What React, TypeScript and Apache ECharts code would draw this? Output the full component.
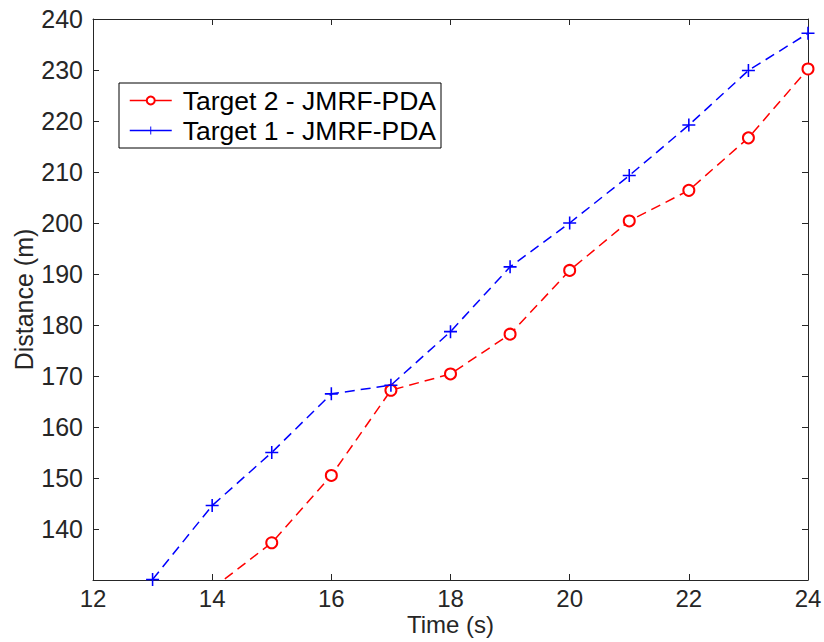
import React, { useEffect, useRef } from "react";
import * as echarts from "echarts";

const seriesNames = ["Target 2 - JMRF-PDA", "Target 1 - JMRF-PDA"];
const timeTarget2 = [14, 15, 16, 17, 18, 19, 20, 21, 22, 23, 24];
const distTarget2 = [128.3, 137.3, 150.5, 167.2, 170.4, 178.2, 190.7, 200.4, 206.4, 216.7, 230.2];
const timeTarget1 = [13, 14, 15, 16, 17, 18, 19, 20, 21, 22, 23, 24];
const distTarget1 = [130.1, 144.6, 155.0, 166.5, 168.2, 178.7, 191.4, 200.0, 209.3, 219.2, 229.9, 237.2];
const xRange = [12, 24];
const yRange = [130, 240];

const FONT = "Liberation Sans, Arial, Helvetica, sans-serif";
const AXIS_COLOR = "#262626";
const PLUS = "path://M4.4,0H5.6V4.4H10V5.6H5.6V10H4.4V5.6H0V4.4H4.4Z";

export default function App() {
  const ref = useRef<HTMLDivElement>(null);
  useEffect(() => {
    if (!ref.current) return;
    const chart = echarts.init(ref.current, undefined, { renderer: "svg" });
    const axisLine = { show: true, onZero: false, lineStyle: { color: AXIS_COLOR, width: 1 } };
    const tick = { show: true, inside: true, length: 6, lineStyle: { color: AXIS_COLOR, width: 1 } };
    chart.setOption({
      animation: false,
      backgroundColor: "#ffffff",
      grid: { left: 93, top: 19, right: 16, bottom: 62, containLabel: false, outerBoundsMode: "none" },
      legend: {
        left: 119,
        top: 83,
        orient: "vertical",
        data: seriesNames,
        backgroundColor: "#ffffff",
        borderColor: "#000000",
        borderWidth: 1,
        borderRadius: 0,
        padding: [4, 5, 4, 10],
        itemWidth: 42,
        itemHeight: 10,
        itemGap: 3,
        lineStyle: { type: "solid", width: 1.5 },
        textStyle: { fontFamily: FONT, fontSize: 26.5, lineHeight: 22, color: "#000000", padding: [0, 0, 0, 6] },
      },
      xAxis: [
        {
          type: "value",
          min: xRange[0],
          max: xRange[1],
          interval: 2,
          position: "bottom",
          name: "Time (s)",
          nameLocation: "middle",
          nameGap: 34,
          nameMoveOverlap: false,
          nameTextStyle: { fontFamily: FONT, fontSize: 24, lineHeight: 20, color: AXIS_COLOR },
          axisLine,
          axisTick: tick,
          axisLabel: { fontFamily: FONT, fontSize: 24, lineHeight: 20, color: AXIS_COLOR, margin: 8.5 },
          splitLine: { show: false },
        },
        {
          type: "value",
          min: xRange[0],
          max: xRange[1],
          interval: 2,
          position: "top",
          axisLine,
          axisTick: tick,
          axisLabel: { show: false },
          splitLine: { show: false },
        },
      ],
      yAxis: [
        {
          type: "value",
          min: yRange[0],
          max: yRange[1],
          interval: 10,
          position: "left",
          name: "Distance (m)",
          nameLocation: "middle",
          nameGap: 57,
          nameMoveOverlap: false,
          nameTextStyle: { fontFamily: FONT, fontSize: 25, color: AXIS_COLOR },
          axisLine,
          axisTick: tick,
          axisLabel: { fontFamily: FONT, fontSize: 25, lineHeight: 20, color: AXIS_COLOR, margin: 10, showMinLabel: false },
          splitLine: { show: false },
        },
        {
          type: "value",
          min: yRange[0],
          max: yRange[1],
          interval: 10,
          position: "right",
          axisLine,
          axisTick: tick,
          axisLabel: { show: false },
          splitLine: { show: false },
        },
      ],
      series: [
        {
          name: seriesNames[0],
          type: "line",
          data: timeTarget2.map((t, i) => [t, distTarget2[i]]),
          symbol: "emptyCircle",
          symbolSize: 11,
          showAllSymbol: true,
          lineStyle: { color: "#ff0000", width: 1.5, type: [10, 6] },
          itemStyle: { color: "#ff0000", borderColor: "#ff0000", borderWidth: 1.2 },
          clip: true,
        },
        {
          name: seriesNames[1],
          type: "line",
          data: timeTarget1.map((t, i) => [t, distTarget1[i]]),
          symbol: PLUS,
          symbolSize: 13,
          showAllSymbol: true,
          lineStyle: { color: "#0000ff", width: 1.5, type: [10, 6] },
          itemStyle: { color: "#0000ff" },
          clip: true,
        },
      ],
    });
    return () => chart.dispose();
  }, []);
  return (
    <div
      ref={ref}
      style={{ position: "fixed", left: 0, top: 0, width: 824, height: 642, background: "#fff" }}
    />
  );
}
